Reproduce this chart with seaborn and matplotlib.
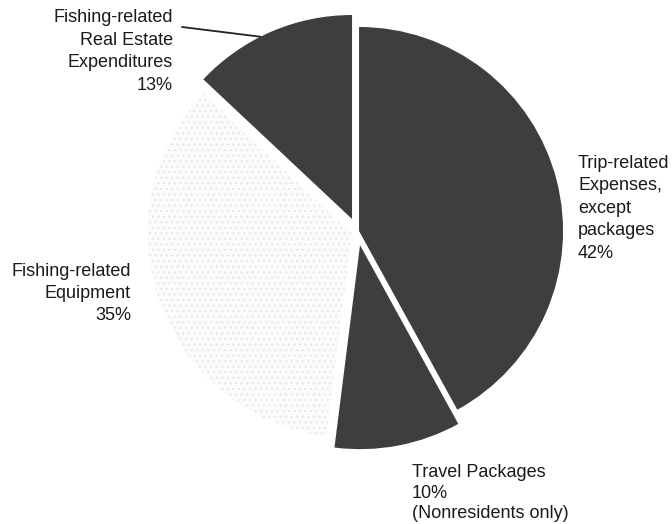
import numpy as np
import matplotlib
matplotlib.use("Agg")
import matplotlib.pyplot as plt
import seaborn as sns

# Shares of angler spending, clockwise from 12 o'clock
categories = [
    "Trip-related\nExpenses,\nexcept\npackages",
    "Travel Packages",
    "Fishing-related\nEquipment",
    "Fishing-related\nReal Estate\nExpenditures",
]
shares = [42, 10, 35, 13]
notes = ["", "(Nonresidents only)", "", ""]

sns.set_theme(style="white")
plt.rcParams["font.family"] = ["Liberation Sans", "DejaVu Sans"]
plt.rcParams["hatch.linewidth"] = 0.6

W, H = 672, 524
fig = plt.figure(figsize=(W / 100, H / 100), dpi=100)
ax = fig.add_axes([0, 0, 1, 1])

dark = "#3e3e3e"
light = "#fbfbfb"
colors = [dark, dark, light, dark]
# pie offsets are in data units (pixels here)
explode = [1.7, 14, 6, 13.5]

radius = 204
center = (357.4, H - 231.4)
wedges, _ = ax.pie(
    shares,
    explode=explode,
    colors=colors,
    startangle=90,
    counterclock=False,
    radius=radius,
    center=center,
    frame=True,
    wedgeprops=dict(linewidth=0),
)
# faint speckled fill for the equipment slice
wedges[2].set_hatch("...")
wedges[2].set_edgecolor("#e2e2e2")

ax.set_xlim(0, W)
ax.set_ylim(0, H)
ax.set_aspect("equal")
ax.axis("off")


def label(i):
    text = f"{categories[i]}\n{shares[i]}%"
    if notes[i]:
        text += f"\n{notes[i]}"
    return text


txt = dict(fontsize=13, color="#1a1a1a")
ax.text(578, H - 155, label(0), ha="left", va="top", linespacing=1.42, **txt)
ax.text(412, H - 464, label(1), ha="left", va="top", linespacing=1.27, **txt)
ax.text(131, H - 263, label(2), ha="right", va="top", linespacing=1.4, **txt)

# leader from the real-estate label to its slice
re = wedges[3]
ang = np.deg2rad(re.theta1 + 0.57 * (re.theta2 - re.theta1))
tip = (re.center[0] + re.r * np.cos(ang), re.center[1] + re.r * np.sin(ang))
ax.text(173, H - 9, label(3), ha="right", va="top", linespacing=1.44, **txt)
ax.annotate("", xy=tip, xytext=(182, H - 27),
            arrowprops=dict(arrowstyle="-", color="#222222", lw=1.3,
                            shrinkA=0, shrinkB=0))

fig.savefig("out.png", dpi=100)
